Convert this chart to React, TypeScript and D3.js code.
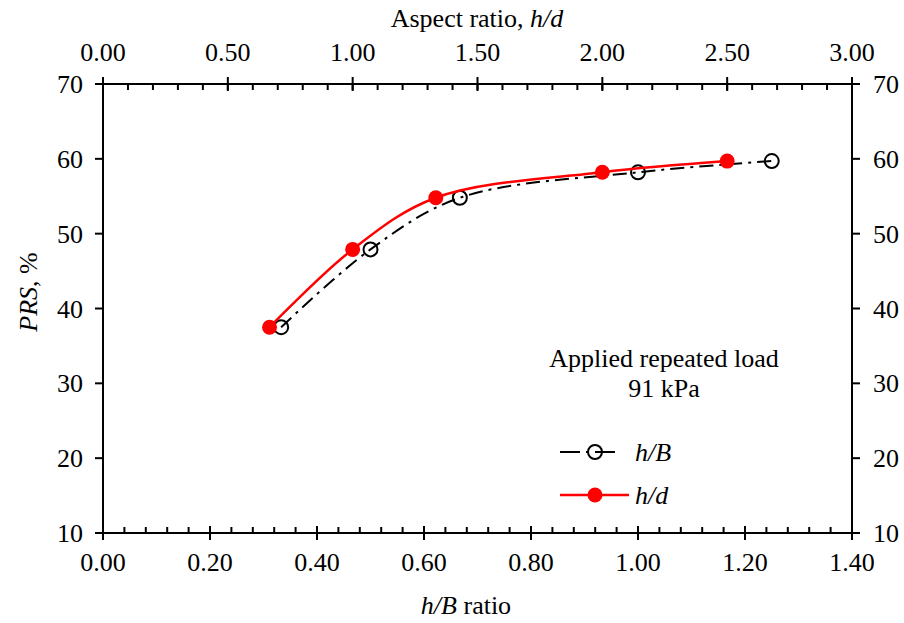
import React from "react";
import * as d3 from "d3";

const PRS_VALUES = [37.5, 47.9, 54.8, 58.2, 59.7];
const HB_VALUES = [0.333, 0.5, 0.667, 1.0, 1.25];
const HD_VALUES = [0.667, 1.0, 1.333, 2.0, 2.5];

const BOTTOM_TICKS = [0, 0.2, 0.4, 0.6, 0.8, 1.0, 1.2, 1.4];
const TOP_TICKS = [0, 0.5, 1.0, 1.5, 2.0, 2.5, 3.0];
const Y_TICKS = [10, 20, 30, 40, 50, 60, 70];

const W = 904;
const H = 623;
const M = { left: 103, right: 852, top: 84, bottom: 533 };
const FONT = "'Liberation Serif', 'Times New Roman', serif";
const FS = 26;

export default function App() {
  const x = d3.scaleLinear().domain([0, 1.4]).range([M.left, M.right]);
  const xTop = d3.scaleLinear().domain([0, 3]).range([M.left, M.right]);
  const y = d3.scaleLinear().domain([10, 70]).range([M.bottom, M.top]);

  const bottomMinor = d3.range(0, 1.4001, 0.04);
  const topMinor = d3.range(0, 3.0001, 0.1);

  const hbPts: [number, number][] = HB_VALUES.map((v, i) => [x(v), y(PRS_VALUES[i])]);
  const hdPts: [number, number][] = HD_VALUES.map((v, i) => [xTop(v), y(PRS_VALUES[i])]);
  const line = d3.line().curve(d3.curveCatmullRom.alpha(0.5));

  const fmt2 = d3.format(".2f");

  return (
    <svg width={W} height={H} style={{ position: "absolute", left: 0, top: 0, background: "#fff" }} fontFamily={FONT}>
      <rect x={0} y={0} width={W} height={H} fill="#fff" />
      {/* frame */}
      <g stroke="#000" strokeWidth={2} fill="none">
        <line x1={M.left} x2={M.right} y1={M.bottom} y2={M.bottom} />
        <line x1={M.left} x2={M.right} y1={M.top} y2={M.top} />
        <line x1={M.left} x2={M.left} y1={M.top} y2={M.bottom} />
        <line x1={M.right} x2={M.right} y1={M.top} y2={M.bottom} />
        {bottomMinor.map((t, i) => (
          <line key={"bm" + i} x1={x(t)} x2={x(t)} y1={M.bottom} y2={M.bottom - 6} />
        ))}
        {BOTTOM_TICKS.map((t, i) => (
          <line key={"bM" + i} x1={x(t)} x2={x(t)} y1={M.bottom + 7} y2={M.bottom - 7} />
        ))}
        {topMinor.map((t, i) => (
          <line key={"tm" + i} x1={xTop(t)} x2={xTop(t)} y1={M.top} y2={M.top + 6} />
        ))}
        {TOP_TICKS.map((t, i) => (
          <line key={"tM" + i} x1={xTop(t)} x2={xTop(t)} y1={M.top - 7} y2={M.top + 7} />
        ))}
        {Y_TICKS.map((t, i) => (
          <g key={"y" + i}>
            <line x1={M.left - 8} x2={M.left} y1={y(t)} y2={y(t)} />
            <line x1={M.right} x2={M.right + 8} y1={y(t)} y2={y(t)} />
          </g>
        ))}
      </g>
      {/* tick labels */}
      <g fontSize={FS} fill="#000">
        {BOTTOM_TICKS.map((t, i) => (
          <text key={"bl" + i} x={x(t)} y={571} textAnchor="middle">{fmt2(t)}</text>
        ))}
        {TOP_TICKS.map((t, i) => (
          <text key={"tl" + i} x={xTop(t)} y={61} textAnchor="middle">{fmt2(t)}</text>
        ))}
        {Y_TICKS.map((t, i) => (
          <text key={"yl" + i} x={M.left - 20} y={y(t) + 9} textAnchor="end">{t}</text>
        ))}
        {Y_TICKS.map((t, i) => (
          <text key={"yr" + i} x={M.right + 21} y={y(t) + 9} textAnchor="start">{t}</text>
        ))}
      </g>
      {/* axis titles */}
      <g fontSize={FS} fill="#000">
        <text x={477} y={27} textAnchor="middle">
          Aspect ratio, <tspan fontStyle="italic">h/d</tspan>
        </text>
        <text x={466} y={614} textAnchor="middle">
          <tspan fontStyle="italic">h/B</tspan> ratio
        </text>
        <text transform={`translate(37,292) rotate(-90)`} textAnchor="middle">
          <tspan fontStyle="italic">PRS</tspan>, %
        </text>
        <text x={664} y={367} textAnchor="middle">Applied repeated load</text>
        <text x={664} y={397} textAnchor="middle">91 kPa</text>
      </g>
      {/* series h/B */}
      <path d={line(hbPts) || ""} fill="none" stroke="#000" strokeWidth={2} strokeDasharray="14,6,3,6" />
      {hbPts.map((p, i) => (
        <circle key={"hb" + i} cx={p[0]} cy={p[1]} r={7} fill="none" stroke="#000" strokeWidth={2} />
      ))}
      {/* series h/d */}
      <path d={line(hdPts) || ""} fill="none" stroke="#ff0000" strokeWidth={2.5} />
      {hdPts.map((p, i) => (
        <circle key={"hd" + i} cx={p[0]} cy={p[1]} r={7.5} fill="#ff0000" />
      ))}
      {/* legend */}
      <g>
        <line x1={560} x2={621} y1={452} y2={452} stroke="#000" strokeWidth={2} strokeDasharray="20,6,3,6" />
        <circle cx={595} cy={452} r={7} fill="none" stroke="#000" strokeWidth={2} />
        <text x={635} y={461} fontSize={FS} fontStyle="italic">h/B</text>
        <line x1={560} x2={629} y1={495} y2={495} stroke="#ff0000" strokeWidth={2.5} />
        <circle cx={595} cy={495} r={7.5} fill="#ff0000" />
        <text x={635} y={504} fontSize={FS} fontStyle="italic">h/d</text>
      </g>
    </svg>
  );
}
